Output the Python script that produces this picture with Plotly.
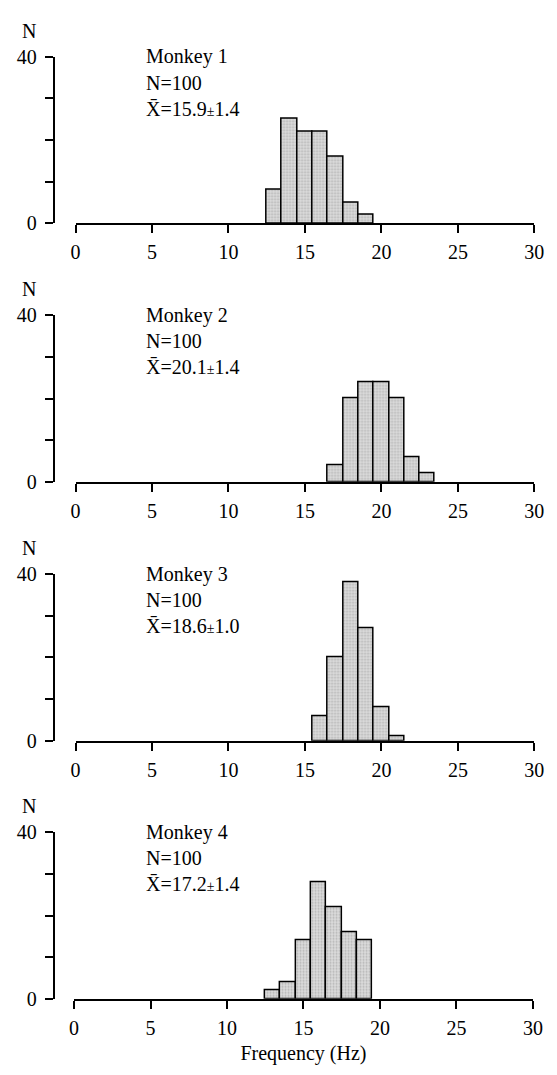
import plotly.graph_objects as go

# Firing-frequency histograms (1 Hz bins, centred on integer frequencies)
monkeys = ["Monkey 1", "Monkey 2", "Monkey 3", "Monkey 4"]
sample_sizes = [100, 100, 100, 100]
means = ["15.9", "20.1", "18.6", "17.2"]
sds = ["1.4", "1.4", "1.0", "1.4"]

bins_1 = [13, 14, 15, 16, 17, 18, 19]
counts_1 = [8, 25, 22, 22, 16, 5, 2]

bins_2 = [17, 18, 19, 20, 21, 22, 23]
counts_2 = [4, 20, 24, 24, 20, 6, 2]

bins_3 = [16, 17, 18, 19, 20, 21]
counts_3 = [6, 20, 38, 27, 8, 1]

bins_4 = [13, 14, 15, 16, 17, 18, 19]
counts_4 = [2, 4, 14, 28, 22, 16, 14]

x_ticks = [0, 5, 10, 15, 20, 25, 30]
y_ticks = [0, 10, 20, 30, 40]
y_ticktext = ["0", "", "", "", "40"]

bins = [bins_1, bins_2, bins_3, bins_4]
counts = [counts_1, counts_2, counts_3, counts_4]

W, H = 557, 1075
FONT = "Liberation Serif, Times New Roman, serif"
FS = 20

# panel geometry in pixels: (x of 0 Hz, x of 30 Hz, y of N=0, y of N=40)
panels_px = [
    (72.5, 544.0, 216.7, 46.7),
    (72.5, 544.0, 480.7, 310.7),
    (72.5, 544.0, 745.0, 575.0),
    (71.0, 542.5, 1008.5, 838.5),
]
yaxis_x_px = 50

fig = go.Figure()
layout = dict(
    width=W, height=H,
    margin=dict(l=0, r=0, t=0, b=0),
    paper_bgcolor="white", plot_bgcolor="white",
    showlegend=False, bargap=0,
    font=dict(family=FONT, size=FS, color="black"),
)
annotations = []

for i in range(4):
    k = i + 1
    xs = "x" if k == 1 else f"x{k}"
    ys = "y" if k == 1 else f"y{k}"
    x0, x1, yb, yt = panels_px[i]
    fig.add_trace(go.Bar(
        x=bins[i], y=counts[i], width=1,
        xaxis=xs, yaxis=ys,
        marker=dict(
            color="#d6d6d6",
            line=dict(color="black", width=1.5),
            pattern=dict(shape=".", size=3, solidity=0.35,
                         fgcolor="#8a8a8a", bgcolor="#dcdcdc"),
        ),
    ))
    layout[f"xaxis{'' if k == 1 else k}"] = dict(
        domain=[x0 / W, x1 / W], anchor=ys, range=[0, 30],
        tickvals=x_ticks, ticks="outside", ticklen=8, tickwidth=1.5,
        tickcolor="black", showline=True, linewidth=2, linecolor="black",
        showgrid=False, zeroline=False, fixedrange=True,
        ticklabelstandoff=2,
        tickfont=dict(family=FONT, size=FS),
    )
    layout[f"yaxis{'' if k == 1 else k}"] = dict(
        domain=[1 - yb / H, 1 - yt / H], anchor="free", position=yaxis_x_px / W,
        range=[0, 40], tickvals=y_ticks, ticktext=y_ticktext,
        ticks="outside", ticklen=8, tickwidth=1.5, tickcolor="black",
        showline=True, linewidth=1.8, linecolor="black",
        showgrid=False, zeroline=False, fixedrange=True,
        ticklabelstandoff=4,
        tickfont=dict(family=FONT, size=FS),
    )
    # axis letter above the y axis
    annotations.append(dict(
        text="N", xref="paper", yref=ys, x=34 / W, y=40, yshift=26,
        xanchor="right", yanchor="middle", showarrow=False,
        font=dict(family=FONT, size=FS),
    ))
    lines = [
        monkeys[i],
        f"N={sample_sizes[i]}",
        f"X\u0304={means[i]}<span style='font-size:14px'>\u00b1</span>{sds[i]}",
    ]
    for j, t in enumerate(lines):
        annotations.append(dict(
            text=t, xref="paper", yref=ys, x=143 / W, y=40, yshift=-26 * j,
            xanchor="left", yanchor="middle", showarrow=False,
            font=dict(family=FONT, size=FS),
        ))

layout["xaxis4"]["title"] = dict(text="Frequency (Hz)", font=dict(family=FONT, size=FS), standoff=8)
layout["annotations"] = annotations
fig.update_layout(**layout)

fig.write_html("out.html")
